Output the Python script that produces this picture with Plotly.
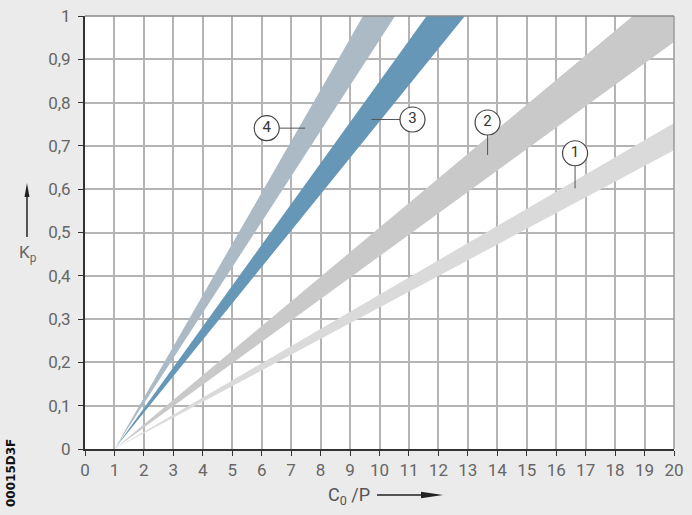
import plotly.graph_objects as go

# C0/P where each band starts (Kp = 0) and the outline points of each band
band_names = ["1", "2", "3", "4"]
band_x = [
    [1, 20, 20],
    [1, 18.6, 20, 20],
    [1, 11.6, 12.9],
    [1, 9.44, 10.53],
]
band_y = [
    [0, 0.753, 0.69],
    [0, 1.0, 1.0, 0.94],
    [0, 1.0, 1.0],
    [0, 1.0, 1.0],
]
band_colors = ["#dadada", "#c9c9c9", "#6797b6", "#abbac4"]

# numbered labels and their leader lines
label_x = [16.64, 13.67, 11.12, 6.17]
label_y = [0.683, 0.754, 0.761, 0.741]
leader_x = [[16.64, 16.64], [13.67, 13.67], [10.7, 9.73], [6.6, 7.47]]
leader_y = [[0.655, 0.602], [0.725, 0.679], [0.761, 0.761], [0.741, 0.741]]

x_ticks = list(range(0, 21))
y_ticks = [0, 0.1, 0.2, 0.3, 0.4, 0.5, 0.6, 0.7, 0.8, 0.9, 1]
y_labels = ["0", "0,1", "0,2", "0,3", "0,4", "0,5", "0,6", "0,7", "0,8", "0,9", "1"]

fig = go.Figure()

for i in range(len(band_names)):
    fig.add_trace(go.Scatter(
        x=band_x[i] + [band_x[i][0]], y=band_y[i] + [band_y[i][0]],
        mode="lines", fill="toself", fillcolor=band_colors[i],
        line=dict(width=0), hoverinfo="skip", showlegend=False,
    ))

for i in range(len(band_names)):
    fig.add_trace(go.Scatter(
        x=leader_x[i], y=leader_y[i], mode="lines",
        line=dict(color="#555555", width=1), showlegend=False,
    ))

fig.add_trace(go.Scatter(
    x=label_x, y=label_y, mode="markers+text", text=band_names,
    textfont=dict(family="Roboto", size=15, color="#333333"),
    marker=dict(size=25, color="white", line=dict(color="#444444", width=1.2)),
    showlegend=False, cliponaxis=False,
))

tick_font = dict(family="Roboto", size=17, color="#666666")
fig.update_xaxes(
    range=[0, 20], tickvals=x_ticks, ticks="outside", ticklen=5, tickcolor="#333",
    showgrid=True, gridcolor="#b4b4b4", gridwidth=1.5, automargin=False,
    showline=True, linecolor="#333333", linewidth=2,
    zeroline=False, tickfont=tick_font,
)
fig.update_yaxes(
    range=[0, 1], tickvals=y_ticks, ticktext=y_labels, ticks="outside", ticklen=5,
    tickcolor="#333", showgrid=True, gridcolor="#b4b4b4", gridwidth=1.5,
    showline=True, linecolor="#333333", linewidth=2, automargin=False,
    zeroline=False, tickfont=tick_font, ticklabelstandoff=4,
)

arrow = dict(color="#222222", width=1.5)
fig.update_layout(
    width=692, height=515,
    margin=dict(l=85, r=18, t=16, b=66),
    paper_bgcolor="#ebebeb", plot_bgcolor="white",
    shapes=[
        dict(type="line", xref="paper", yref="paper", x0=0, x1=1, y0=1, y1=1,
             line=dict(color="#8a8a8a", width=1.5)),
        dict(type="line", xref="paper", yref="paper", x0=1, x1=1, y0=0, y1=1,
             line=dict(color="#9a9a9a", width=1.5)),
        # arrow next to Kp
        dict(type="line", xref="paper", yref="paper", x0=-0.0985, x1=-0.0985,
             y0=0.4896, y1=0.60, line=arrow),
        dict(type="path", xref="paper", yref="paper", xsizemode="pixel", ysizemode="pixel",
             xanchor=-0.0985, yanchor=0.6143, path="M 0,0 L -2.5,-14 L 2.5,-14 Z",
             fillcolor="#222222", line=dict(width=0)),
        # arrow next to C0/P
        dict(type="line", xref="paper", yref="paper", x0=0.4958, x1=0.585,
             y0=-0.1062, y1=-0.1062, line=arrow),
        dict(type="path", xref="paper", yref="paper", xsizemode="pixel", ysizemode="pixel",
             xanchor=0.6078, yanchor=-0.1062, path="M 0,0 L -22,3.2 L -22,-3.2 Z",
             fillcolor="#222222", line=dict(width=0)),
    ],
    annotations=[
        dict(text="K<sub>p</sub>", xref="paper", yref="paper", x=-0.097, y=0.452,
             xanchor="center", yanchor="middle", showarrow=False,
             font=dict(family="Roboto", size=17, color="#666666")),
        dict(text="C<sub>0</sub> /P", xref="paper", yref="paper", x=0.448, y=-0.108,
             xanchor="center", yanchor="middle", showarrow=False,
             font=dict(family="Roboto", size=18, color="#555555")),
        dict(text="<b>00015D3F</b>", xref="paper", yref="paper", x=-0.1256, y=-0.0554,
             xanchor="center", yanchor="middle", textangle=-90, showarrow=False,
             font=dict(family="DejaVu Sans", size=12, color="#111111")),
    ],
)

# the page's default body margin would shift the chart by 8px
fig.write_html("out.html", config={"displayModeBar": False},
               post_script="document.body.style.margin = '0';")
